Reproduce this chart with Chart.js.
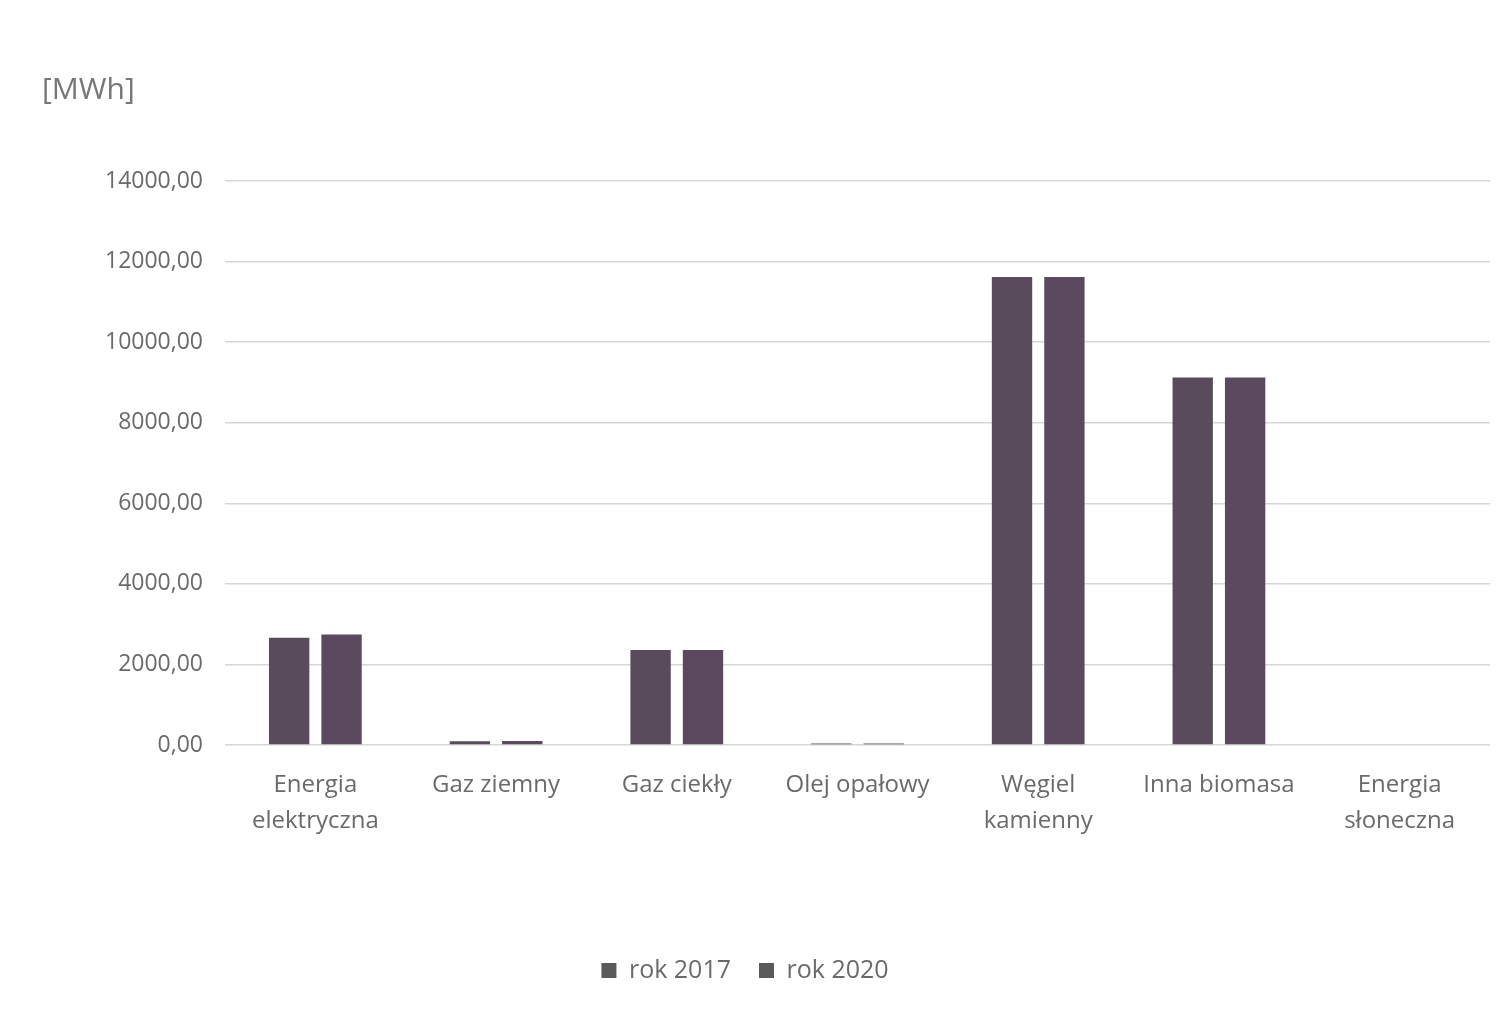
<!DOCTYPE html>
<html lang="pl">
<head>
<meta charset="utf-8">
<title>Zużycie energii [MWh]</title>
<script src="https://cdn.jsdelivr.net/npm/chart.js@4"></script>
<style>
  html, body { margin: 0; padding: 0; background: #fff; }
  #wrap { width: 1511px; height: 1011px; position: relative; }
</style>
</head>
<body>
<div id="wrap"><canvas id="chart"></canvas></div>
<script>
// ==== Data ====
const categories = [
  ["Energia", "elektryczna"],
  "Gaz ziemny",
  "Gaz ciekły",
  "Olej opałowy",
  ["Węgiel", "kamienny"],
  "Inna biomasa",
  ["Energia", "słoneczna"]
];
const seriesNames = ["rok 2017", "rok 2020"];
const values2017 = [2660, 90, 2360, 40, 11620, 9120, 0];
const values2020 = [2740, 100, 2360, 40, 11620, 9120, 0];
const yTicks = [0, 2000, 4000, 6000, 8000, 10000, 12000, 14000];
const unitLabel = "[MWh]";

const FONT = "'Open Sans', Lato, sans-serif";
const TEXT = "#6a6a6a";

// ==== Unit label drawn above the axis ====
const unitPlugin = {
  id: "unitLabel",
  afterDraw(chart) {
    const c = chart.ctx;
    c.save();
    c.font = "30px " + FONT;
    c.fillStyle = "#777";
    c.textBaseline = "middle";
    c.fillText(unitLabel, 42, 90);
    c.restore();
  }
};

// ==== Chart ====
new Chart(document.getElementById("chart"), {
  type: "bar",
  data: {
    labels: categories,
    datasets: [
      { label: seriesNames[0], data: values2017, backgroundColor: "#594b5b" },
      { label: seriesNames[1], data: values2020, backgroundColor: "#5b4a5f" }
    ]
  },
  options: {
    responsive: true,
    maintainAspectRatio: false,
    animation: false,
    categoryPercentage: 0.58,
    barPercentage: 0.77,
    layout: { padding: { top: 181, right: 21, bottom: 18, left: 0 } },
    plugins: {
      legend: {
        position: "bottom",
        labels: {
          font: { family: FONT, size: 25 },
          color: TEXT,
          boxWidth: 15,
          boxHeight: 15,
          padding: 28,
          generateLabels(chart) {
            // neutral grey swatches, as printed
            return Chart.defaults.plugins.legend.labels.generateLabels(chart)
              .map(l => Object.assign(l, { fillStyle: "#5a5a5a", strokeStyle: "#5a5a5a", lineWidth: 0 }));
          }
        }
      },
      tooltip: { enabled: false }
    },
    scales: {
      x: {
        grid: { display: false },
        border: { display: false },
        ticks: {
          font: { family: FONT, size: 24, lineHeight: 1.5 },
          color: TEXT,
          padding: 14,
          maxRotation: 0,
          autoSkip: false
        },
        afterFit(scale) { scale.height = 185; }
      },
      y: {
        min: 0,
        max: 14000,
        afterBuildTicks(scale) { scale.ticks = yTicks.map(v => ({ value: v })); },
        grid: { color: "#d6d6d6", lineWidth: 1.5, drawTicks: false },
        border: { display: false },
        ticks: {
          font: { family: FONT, size: 23 },
          color: TEXT,
          padding: 22,
          callback: v => v.toFixed(2).replace(".", ",")
        },
        afterFit(scale) { scale.width = 225; }
      }
    }
  },
  plugins: [unitPlugin]
});
</script>
</body>
</html>
